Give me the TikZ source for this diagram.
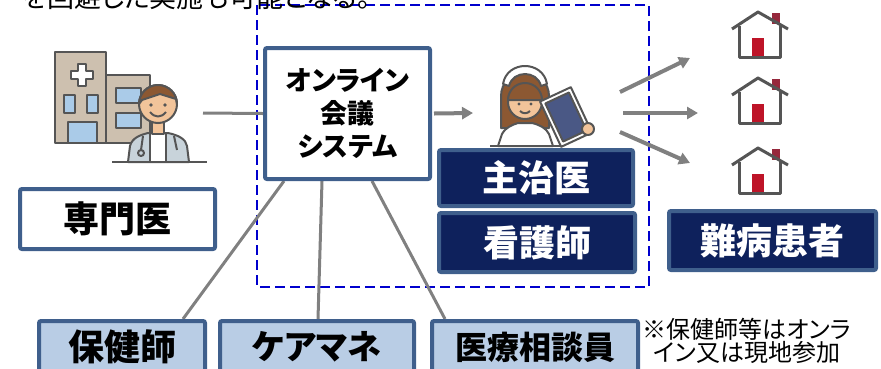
\documentclass[tikz,border=0pt]{standalone}
\usepackage{fontspec}
\setmainfont{Noto Sans CJK JP}[RawFeature=+palt]
\usetikzlibrary{arrows.meta,calc,backgrounds}

\definecolor{framec}{RGB}{63,95,140}
\definecolor{navyfill}{RGB}{14,33,92}
\definecolor{paleblue}{RGB}{185,205,229}
\definecolor{linegray}{RGB}{128,128,128}
\definecolor{dashblue}{RGB}{0,0,205}
\definecolor{iconline}{RGB}{85,85,85}
\definecolor{skin}{RGB}{242,196,154}
\definecolor{hair}{RGB}{140,88,50}
\definecolor{beige}{RGB}{205,192,175}
\definecolor{winblue}{RGB}{170,203,232}
\definecolor{coatgray}{RGB}{200,211,218}
\definecolor{doorred}{RGB}{190,20,40}
\definecolor{chimney}{RGB}{150,40,60}

\begin{document}
\begin{tikzpicture}[x=1pt, y=-1pt, >={Triangle[length=11pt,width=12pt]},
    box/.style={draw=framec, line width=4pt, rounded corners=2pt, inner sep=0pt, font=\bfseries, align=center},
    whitebox/.style={box, fill=white},
    navybox/.style={box, fill=navyfill, text=white},
    palebox/.style={box, fill=paleblue},
    link/.style={draw=linegray, line width=3pt},
    flow/.style={->, draw=linegray, fill=linegray, line width=4pt}]
    \useasboundingbox (0,0) rectangle (881,368);
    \clip (0,0) rectangle (881,368);

    \node[anchor=base west, inner sep=0pt, font=\fontsize{27}{30}\selectfont] (lead) at (22,7) {を回避した実施も可能となる。};

    % boxes
    \node[whitebox, minimum width=165pt, minimum height=131pt, font=\bfseries\fontsize{27}{33}\selectfont] (cms) at (347.5,113.5) {オンライン\\会議\\システム};
    \node[whitebox, minimum width=195pt, minimum height=60pt, font=\bfseries\fontsize{36}{40}\selectfont] (senmon) at (117.5,219) {専門医};
    \node[navybox, minimum width=194pt, minimum height=56pt, font=\bfseries\fontsize{36}{40}\selectfont] (shuji) at (536,178) {主治医};
    \node[navybox, minimum width=196pt, minimum height=59pt, font=\bfseries\fontsize{36}{40}\selectfont] (kango) at (537,242.5) {看護師};
    \node[navybox, minimum width=207pt, minimum height=59pt, font=\bfseries\fontsize{36}{40}\selectfont] (nanbyo) at (772.5,240.5) {難病患者};
    \node[palebox, minimum width=166pt, minimum height=52pt, font=\bfseries\fontsize{36}{40}\selectfont] (hoken) at (122,347) {保健師};
    \node[palebox, minimum width=194pt, minimum height=52pt, font=\bfseries\fontsize{34}{40}\selectfont] (care) at (317,347) {ケアマネ};
    \node[palebox, minimum width=206pt, minimum height=52pt, font=\bfseries\fontsize{32}{40}\selectfont] (sodan) at (535,347) {医療相談員};
    \node[font=\fontsize{24}{22}\selectfont, align=center, inner sep=0pt] (note) at (747,341) {※保健師等はオンラ\\イン又は現地参加};

    % free ends beside the icons
    \coordinate (docR) at (203,113);
    \coordinate (nurseL) at (473,113);
    \coordinate (out1) at (620,92);
    \coordinate (out2) at (623,113);
    \coordinate (out3) at (620,132);
    \coordinate (home1) at (690,58);
    \coordinate (home2) at (698,113);
    \coordinate (home3) at (690,163);

    \begin{scope}[on background layer]
        \draw[dashblue, line width=2.6pt, dash pattern=on 10pt off 5pt] (257,5) rectangle (649,287);
        \draw[link] (docR) -- (cms.west);
        \draw[link] ($(cms.south)+(-63.5,0)$) -- ($(hoken.north)+(61,0)$);
        \draw[link] ($(cms.south)+(-25.5,0)$) -- ($(care.north)+(1,0)$);
        \draw[link] ($(cms.south)+(24.5,0)$) -- ($(sodan.north)+(-90,0)$);
    \end{scope}
    \draw[flow] ($(cms.east)+(2,0)$) -- (nurseL);
    \draw[flow] (out1) -- (home1);
    \draw[flow] (out2) -- (home2);
    \draw[flow] (out3) -- (home3);

    % hospital and doctor
    \begin{scope}[draw=iconline, line width=2pt, line join=round]
        \filldraw[fill=beige] (104,75) rectangle (150,143);
        \filldraw[fill=winblue] (116,88) rectangle (141,103);
        \filldraw[fill=winblue] (116,113) rectangle (141,128);
        \filldraw[fill=beige] (55,52) rectangle (106,143);
        \filldraw[fill=white] (78,64) -- (86,64) -- (86,71) -- (93,71) -- (93,79) -- (86,79) -- (86,86) -- (78,86) -- (78,79) -- (71,79) -- (71,71) -- (78,71) -- cycle;
        \filldraw[fill=winblue] (64,95) rectangle (75,113);
        \filldraw[fill=winblue] (87,95) rectangle (98,113);
        \filldraw[fill=winblue] (68,122) rectangle (97,143);
        \filldraw[fill=coatgray] (128,162) -- (130,146) .. controls (132,138) and (140,135) .. (148,133) -- (168,133) .. controls (178,135) and (186,139) .. (187,146) -- (189,162) -- cycle;
        \filldraw[fill=white] (150,133) -- (166,133) -- (166,162) -- (150,162) -- cycle;
        \filldraw[fill=skin] (152,120) rectangle (164,134);
        \filldraw[fill=skin] (158,104) circle (19);
        \filldraw[fill=hair] (139,104) arc (180:360:19) -- (176,99) -- (160,94) -- (142,100) -- cycle;
        \fill[iconline] (151,105) circle (1.8) (165,105) circle (1.8);
        \draw (150,112) .. controls (155,118) and (161,118) .. (166,112);
        \draw (143,136) -- (141,150);
        \draw (141,153) circle (3);
        \draw (174,136) -- (177,150);
        \draw (112,162) -- (207,162);
    \end{scope}

    % nurse with tablet
    \begin{scope}[draw=iconline, line width=2pt, line join=round]
        \filldraw[fill=hair] (501,128) -- (501,96) arc (180:360:24) -- (549,128) -- cycle;
        \filldraw[fill=white] (498,146) -- (502,134) .. controls (506,127) and (512,125) .. (518,123) -- (532,123) .. controls (540,125) and (546,128) .. (549,134) -- (553,146) -- cycle;
        \filldraw[fill=skin] (525,102) circle (17);
        \filldraw[fill=hair] (508,100) arc (180:360:17) -- cycle;
        \filldraw[fill=white] (503,84) .. controls (507,60) and (543,60) .. (547,84) -- (541,86) .. controls (537,70) and (513,70) .. (509,86) -- cycle;
        \fill[iconline] (519,104) circle (1.6) (531,104) circle (1.6);
        \draw (520,111) .. controls (523,114) and (527,114) .. (530,111);
        \draw (490,146) -- (560,146);
        \begin{scope}[shift={(566,117)}, rotate=25]
            \filldraw[fill=white] (-17,-25) rectangle (17,25);
            \filldraw[fill=navyfill!75] (-13,-21) rectangle (13,21);
        \end{scope}
        \filldraw[fill=skin] (588,129) circle (6);
    \end{scope}

    % houses
    \foreach \t in {12,78,148} {
        \fill[chimney] (772,\t+1) rectangle (780,\t+12);
        \draw[iconline, line width=3pt, line join=round] (732,\t+17) -- (758,\t) -- (788,\t+17);
        \draw[iconline, line width=3pt, line join=round] (739,\t+14) -- (739,\t+45) -- (780,\t+45) -- (780,\t+14);
        \fill[doorred] (752,\t+26) rectangle (764,\t+44);
    }
\end{tikzpicture}
\end{document}
